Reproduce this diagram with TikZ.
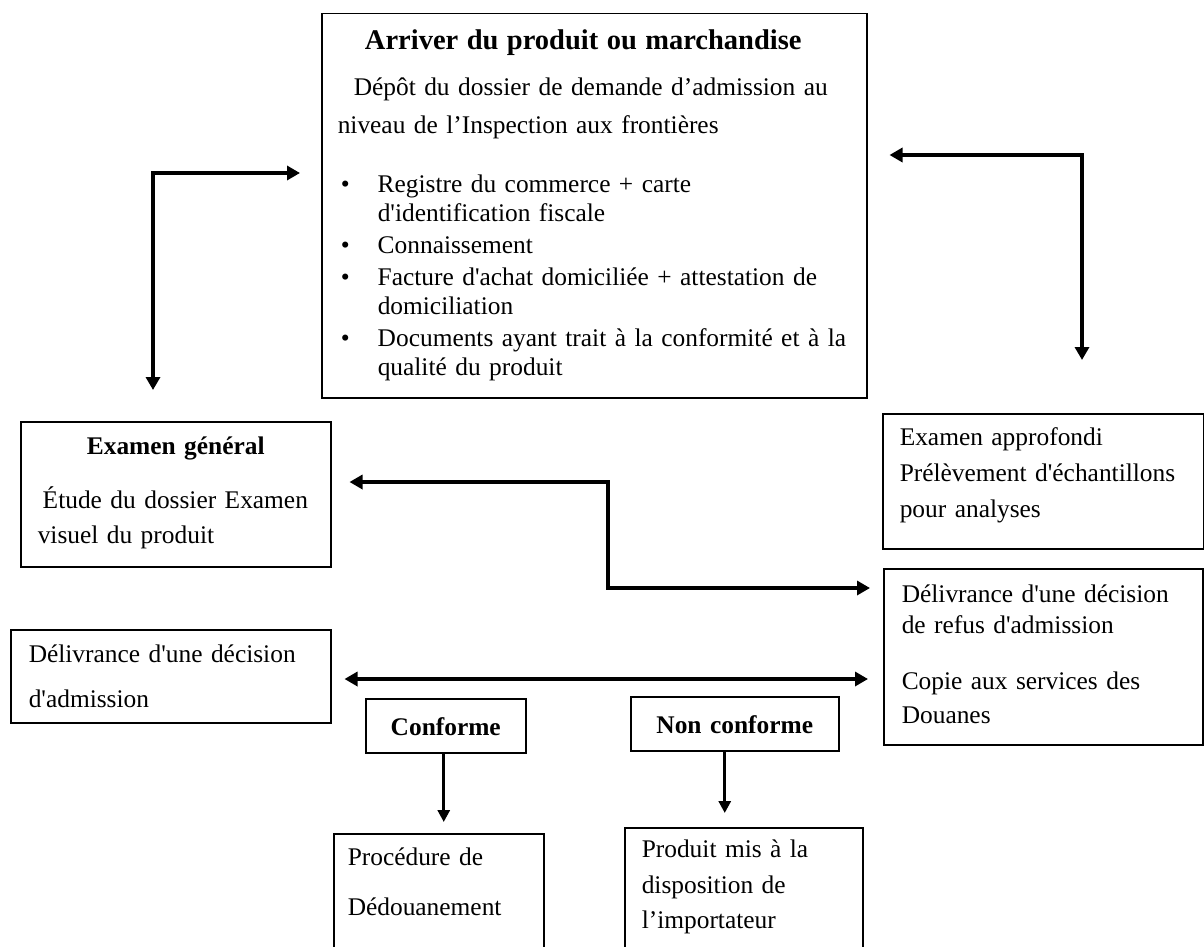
\documentclass[tikz,border=0pt]{standalone}
\usepackage{fontspec}
\setmainfont{Liberation Serif}
\usetikzlibrary{arrows.meta}
\hyphenpenalty=10000
\newcommand{\apo}{\textquotesingle}
\newcommand{\puce}{\makebox[40pt][l]{\hspace{3pt}\textbullet}}
\newcommand{\suite}{\hspace*{40pt}}

\begin{document}
\begin{tikzpicture}[x=1pt, y=-1pt,
    boite/.style={draw, line width=1.5pt, anchor=north west, inner ysep=0pt, align=left, font=\fontsize{25.4}{29}\selectfont},
    fleche/.style={line width=3pt, -{Triangle[length=12pt,width=12pt]}},
    fleche2/.style={line width=4pt, {Triangle[length=13pt,width=14pt]}-{Triangle[length=13pt,width=14pt]}}]
                \useasboundingbox (0,0) rectangle (1204,947);
                % dossier d'admission
                \node[boite, text width=513pt, inner xsep=16pt, text height=36pt, text depth=348pt] (haut) at (321,13) {\makebox[\linewidth]{\fontsize{28.5}{29}\selectfont\bfseries Arriver du produit ou marchandise\hspace*{22pt}}\\[17pt]
                    \makebox[\linewidth][s]{\hspace*{16pt}Dépôt du dossier de demande d’admission au}\\[9pt]
                    niveau de l’Inspection aux frontières\\[30pt]
                    \puce Registre du commerce + carte\\
                    \suite d\apo identification fiscale\\[3pt]
                    \puce Connaissement\\[3pt]
                    \puce Facture d\apo achat domiciliée + attestation de\\
                    \suite domiciliation\\[3pt]
                    \puce Documents ayant trait à la conformité et à la\\
                    \suite qualité du produit};
                % examens
                \node[boite, text width=276pt, inner xsep=17pt, text height=33pt, text depth=112pt] (exg) at (20,421) {\makebox[\linewidth]{\bfseries Examen général}\\[25pt]\hspace*{5pt}Étude du dossier Examen\\[6pt]visuel du produit};
                \node[boite, text width=287pt, inner xsep=17pt, text height=32pt, text depth=103pt] (appr) at (882,413) {Examen approfondi\\[7pt]Prélèvement d\apo échantillons\\[7pt]pour analyses};
                % decisions
                \node[boite, text width=283pt, inner xsep=18pt, text height=34pt, text depth=142pt] (refus) at (883,568) {Délivrance d\apo une décision\\[2pt]de refus d\apo admission\\[27pt]Copie aux services des\\[5pt]Douanes};
                \node[boite, text width=284pt, inner xsep=18pt, text height=33pt, text depth=60pt] (adm) at (10,629) {Délivrance d\apo une décision\\[16pt]d\apo admission};
                \node[boite, align=center, text width=150pt, inner xsep=5pt, text height=37pt, text depth=17pt] (conf) at (365,698) {\bfseries Conforme};
                \node[boite, align=center, text width=198pt, inner xsep=5pt, text height=37pt, text depth=17pt] (nconf) at (630,696) {\bfseries Non conforme};
                \node[boite, text width=182pt, inner xsep=14pt, text height=32pt, text depth=84pt] (proc) at (333,833) {Procédure de\\[21pt]Dédouanement};
                \node[boite, text width=204pt, inner xsep=17pt, text height=30pt, text depth=92pt] (prod) at (624,827) {Produit mis à la\\[7pt]disposition de\\[6pt]l’importateur};
                % fleches
                \coordinate (cg) at (153,173);
                \coordinate (cd) at (1082,155);
                \coordinate (m1) at (608,482);
                \coordinate (m2) at (608,588);
                \coordinate (m3) at (600,679);
                \draw[fleche2, shorten <=31pt, shorten >=21pt] (cg |- exg.north) -- (cg) -- (cg -| haut.west);
                \draw[fleche2, shorten <=53pt, shorten >=22pt] (cd |- appr.north) -- (cd) -- (cd -| haut.east);
                \draw[fleche2, shorten <=18pt, shorten >=13pt] (m1 -| exg.east) -- (m1) -- (m2) -- (m2 -| refus.west);
                \draw[fleche2, line width=3.5pt, shorten <=13pt, shorten >=15pt] (m3 -| adm.east) -- (m3 -| refus.west);
                \draw[fleche, shorten >=11pt] ([xshift=-2pt]conf.south) -- ([xshift=-2pt]conf.south |- proc.north);
                \draw[fleche, shorten >=14pt] ([xshift=-10pt]nconf.south) -- ([xshift=-10pt]nconf.south |- prod.north);
            \end{tikzpicture}
\end{document}
